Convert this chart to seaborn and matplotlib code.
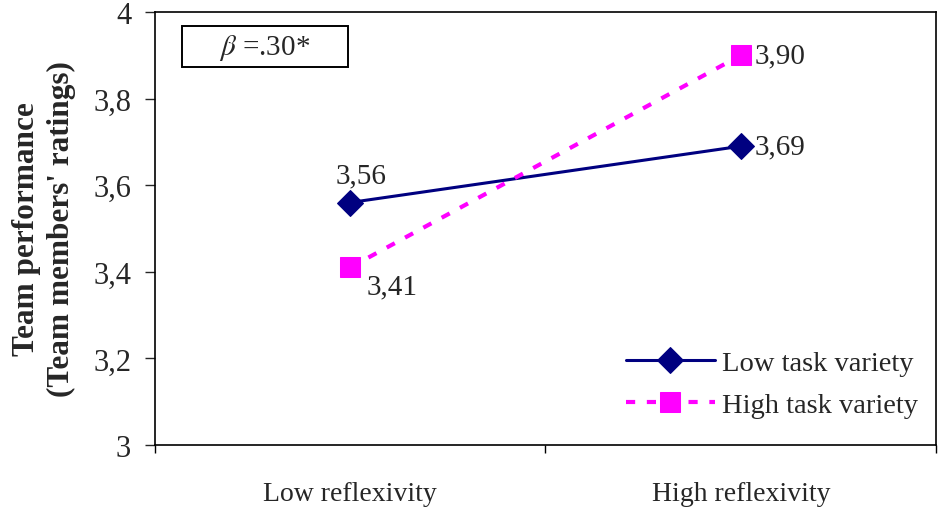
import matplotlib
matplotlib.use("Agg")
import matplotlib.pyplot as plt
from matplotlib.patches import Rectangle
import seaborn as sns
import pandas as pd

categories = ["Low reflexivity", "High reflexivity"]
low_variety = [3.56, 3.69]
high_variety = [3.41, 3.90]
series_names = ["Low task variety", "High task variety"]
y_ticks = [3.0, 3.2, 3.4, 3.6, 3.8, 4.0]
y_tick_labels = ["3", "3,2", "3,4", "3,6", "3,8", "4"]
label_low = ["3,56", "3,69"]
label_high = ["3,41", "3,90"]

sns.set_theme(style="white")
plt.rcParams["font.family"] = ["Liberation Serif", "DejaVu Serif"]
plt.rcParams["mathtext.fontset"] = "stix"

xpos = [0.5, 1.5]
df = pd.DataFrame({
    "x": xpos + xpos,
    "y": low_variety + high_variety,
    "series": [series_names[0]] * 2 + [series_names[1]] * 2,
})

fig = plt.figure(figsize=(9.38, 5.10), dpi=100)
ax = fig.add_axes([0.165, 0.1255, 0.833, 0.849])

navy = "#000080"
magenta = "#FF00FF"

sns.lineplot(data=df[df.series == series_names[0]], x="x", y="y", ax=ax,
             color=navy, linewidth=2.2, marker="D", markersize=13,
             markeredgecolor=navy, label=series_names[0])
sns.lineplot(data=df[df.series == series_names[1]], x="x", y="y", ax=ax,
             color=magenta, linewidth=3, marker="s", markersize=14,
             markeredgecolor=magenta, label=series_names[1])
ax.lines[1].set_dashes([2.2, 2.8])

ax.set_xlim(0, 2)
ax.set_ylim(3, 4)
ax.set_yticks(y_ticks)
ax.set_yticklabels(y_tick_labels, fontsize=22)
ax.set_xticks([0, 1, 2])
ax.set_xticklabels([])
ax.set_xticks(xpos, minor=True)
ax.set_xticklabels(categories, minor=True, fontsize=20)
ax.tick_params(axis="x", which="minor", length=0, pad=26)
ax.tick_params(axis="x", which="major", direction="out", length=6, width=1, bottom=True, colors="black")
ax.tick_params(axis="y", direction="out", length=7, width=1, left=True, pad=10)
ax.set_xlabel("")
ax.set_ylabel("Team performance\n(Team members' ratings)", fontsize=22.5,
              fontweight="bold", labelpad=12, linespacing=1.3)

for s in ax.spines.values():
    s.set_color("black")
    s.set_linewidth(1.2)

# value labels
ax.annotate(label_low[0], (xpos[0], low_variety[0]), xytext=(8, 10),
            textcoords="offset points", ha="center", va="bottom", fontsize=21)
ax.annotate(label_low[1], (xpos[1], low_variety[1]), xytext=(10, 0),
            textcoords="offset points", ha="left", va="center", fontsize=21)
ax.annotate(label_high[0], (xpos[0], high_variety[0]), xytext=(12, -4),
            textcoords="offset points", ha="left", va="top", fontsize=21)
ax.annotate(label_high[1], (xpos[1], high_variety[1]), xytext=(10, 0),
            textcoords="offset points", ha="left", va="center", fontsize=21)

ax.add_patch(Rectangle((0.035, 0.873), 0.212, 0.095, transform=ax.transAxes,
                       facecolor="white", edgecolor="black", linewidth=1.4, zorder=5))
ax.text(0.141, 0.92, r"$\beta$ =.30*", transform=ax.transAxes, fontsize=21,
        ha="center", va="center", zorder=6)

leg = ax.legend(loc="lower right", bbox_to_anchor=(0.991, 0.037), frameon=False,
                fontsize=20.5, handlelength=3.1, handletextpad=0.25,
                labelspacing=0.56, borderaxespad=0.0)

fig.savefig("out.png", dpi=100)
